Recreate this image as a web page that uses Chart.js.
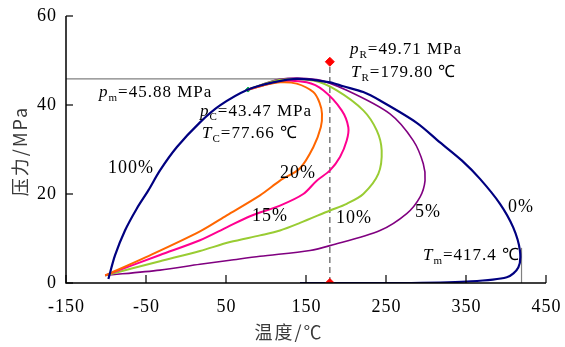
<!DOCTYPE html>
<html>
<head>
<meta charset="utf-8">
<script src="https://cdn.jsdelivr.net/npm/chart.js@4.4.1/dist/chart.umd.min.js"></script>
<style>
  html, body { margin: 0; padding: 0; background: #fff; }
  canvas { display: block; }
</style>
</head>
<body>
<canvas id="chart" width="565" height="347"></canvas>
<script>
// axis ticks
const xTicks = [-150, -50, 50, 150, 250, 350, 450];
const yTicks = [0, 20, 40, 60];

// phase envelope (100% bubble line -> 0% dew line)
const envT = [-97, -88.75, -76.25, -61.6, -47.1, -32.5, -11.6, 17.5, 42.5, 77.66, 109, 140, 180, 196.6, 221.6, 242.5, 288.4, 317.5, 345, 367.5, 392.5, 409, 417.4, 415.4, 401, 351, 267.5, 142.5];
const envP = [0.9, 6.2, 11.8, 16.7, 20.8, 25.3, 30.5, 36.1, 39.9, 43.47, 45.1, 45.88, 45.1, 44.2, 42.9, 41, 36, 31.6, 27.5, 23.4, 17.8, 12.5, 7.3, 3.5, 1.3, 0.34, 0, 0];

// quality lines
const q20T = [-101, -50, 17.5, 50.9, 92.5, 117.5, 142.5, 159.1, 168.5, 170, 167, 159.1, 138.4, 117.5, 96.6, 77.66];
const q20P = [1.7, 5.8, 11.6, 15.2, 19.7, 23, 25.8, 30.5, 35, 38, 40.5, 42.9, 44.8, 45.1, 44.4, 43.47];

const q15T = [-101, -32.5, 17.5, 50.9, 80, 117.5, 146.6, 163.4, 180, 192.5, 200.9, 202.9, 194.6, 171.6, 150.9, 117.5, 77.66];
const q15P = [1.7, 6.3, 9.6, 12.5, 15, 17.4, 20, 23, 25.3, 28.3, 32, 35, 38.8, 43.3, 45.1, 45.3, 43.47];

const q10T = [-101, -32.5, 17.5, 55, 92.5, 117.5, 142.5, 180, 200.9, 221.6, 240.4, 244.6, 238.4, 221.6, 188.4, 159.1, 117, 77.66];
const q10P = [1.7, 4.9, 7.2, 9.2, 10.7, 11.8, 13.5, 16.3, 17.8, 20, 24.5, 29.8, 34.3, 38.8, 43.3, 45.5, 45.6, 43.47];

const q5T = [-101, -32.5, 17.5, 55, 92.5, 155, 180, 242.5, 275.9, 292.5, 298.8, 296.6, 284.1, 255, 200.9, 163.4, 117, 77.66];
const q5P = [1.7, 2.9, 4.2, 5.1, 6.0, 7.3, 8.4, 11.8, 15.6, 19.3, 23, 26.8, 32, 38, 43.3, 45.7, 45.8, 43.47];

// special points
const pm = 45.88, Tm = 417.4;
const pR = 49.71, TR = 179.80;
const pC = 43.47, TC = 77.66;

function pts(xs, ys) {
  return xs.map((x, i) => ({ x, y: ys[i] }));
}

function line(label, xs, ys, color, width) {
  return {
    label,
    data: pts(xs, ys),
    showLine: true,
    borderColor: color,
    backgroundColor: color,
    borderWidth: width,
    pointRadius: 0,
    tension: 0.3,
    fill: false
  };
}

const SERIF = '"Liberation Serif", "Times New Roman", serif';

function subText(ctx, x, y, main, sub, rest, size) {
  ctx.font = `italic ${size}px ${SERIF}`;
  ctx.fillText(main, x, y);
  x += ctx.measureText(main).width;
  ctx.font = `${Math.round(size * 0.65)}px ${SERIF}`;
  ctx.fillText(sub, x, y + 4);
  x += ctx.measureText(sub).width;
  ctx.font = `${size}px ${SERIF}`;
  ctx.fillText(rest, x, y);
}

const axesPlugin = {
  id: "axesPlugin",
  afterDatasetsDraw(chart) {
    const ctx = chart.ctx;
    const xs = chart.scales.x;
    const ys = chart.scales.y;
    const left = xs.getPixelForValue(-150);
    const right = xs.getPixelForValue(450);
    const bottom = ys.getPixelForValue(0);
    const top = ys.getPixelForValue(60);

    ctx.save();
    ctx.strokeStyle = "#000";
    ctx.lineWidth = 1.5;
    ctx.beginPath();
    ctx.moveTo(left, top);
    ctx.lineTo(left, bottom);
    ctx.lineTo(right, bottom);
    ctx.stroke();

    // ticks point inside
    ctx.lineWidth = 1.2;
    xTicks.forEach(v => {
      const px = xs.getPixelForValue(v);
      ctx.beginPath();
      ctx.moveTo(px, bottom);
      ctx.lineTo(px, bottom - 8);
      ctx.stroke();
    });
    yTicks.forEach(v => {
      const py = ys.getPixelForValue(v);
      ctx.beginPath();
      ctx.moveTo(left, py);
      ctx.lineTo(left + 7, py);
      ctx.stroke();
    });

    ctx.fillStyle = "#000";
    ctx.font = `18px ${SERIF}`;
    ctx.letterSpacing = "1px";
    ctx.textAlign = "center";
    ctx.textBaseline = "alphabetic";
    xTicks.forEach(v => {
      ctx.fillText(String(v), xs.getPixelForValue(v) + 0.5, bottom + 29);
    });
    ctx.textAlign = "right";
    ctx.textBaseline = "middle";
    yTicks.forEach(v => {
      ctx.fillText(String(v), left - 9, ys.getPixelForValue(v));
    });

    // axis titles
    ctx.fillStyle = "#3a3a3a";
    ctx.font = `18px "Noto Sans CJK SC", sans-serif`;
    ctx.letterSpacing = "2px";
    ctx.textAlign = "center";
    ctx.textBaseline = "middle";
    ctx.fillText("温度/℃", 289, 332);
    ctx.save();
    ctx.translate(20, 151);
    ctx.rotate(-Math.PI / 2);
    ctx.fillText("压力/MPa", 0, 0);
    ctx.restore();

    // annotations
    ctx.fillStyle = "#000";
    ctx.letterSpacing = "1px";
    ctx.textAlign = "left";
    ctx.textBaseline = "alphabetic";
    const fs = 17;
    subText(ctx, 99, 97, "p", "m", "=45.88 MPa", fs);
    subText(ctx, 200, 116, "p", "C", "=43.47 MPa", fs);
    subText(ctx, 202, 138, "T", "C", "=77.66 ℃", fs);
    subText(ctx, 350, 54, "p", "R", "=49.71 MPa", fs);
    subText(ctx, 351, 77, "T", "R", "=179.80 ℃", fs);
    subText(ctx, 423, 260, "T", "m", "=417.4 ℃", fs);

    ctx.font = `18px ${SERIF}`;
    ctx.fillText("100%", 108, 173);
    ctx.fillText("20%", 280, 178);
    ctx.fillText("15%", 252, 221);
    ctx.fillText("10%", 336, 223);
    ctx.fillText("5%", 415, 217);
    ctx.fillText("0%", 508, 212);
    ctx.restore();
  }
};

const datasets = [
  line("0%/100%", envT, envP, "#000080", 2.2),
  line("20%", q20T, q20P, "#FF6600", 2),
  line("15%", q15T, q15P, "#FF0090", 2),
  line("10%", q10T, q10P, "#99CC33", 2),
  line("5%", q5T, q5P, "#800080", 1.6),
  {
    label: "pm",
    data: [{ x: -150, y: pm }, { x: 146, y: pm }],
    showLine: true, borderColor: "#808080", borderWidth: 1.2, pointRadius: 0, order: 5
  },
  {
    label: "Tm",
    data: [{ x: Tm + 2, y: 0 }, { x: Tm + 2, y: 7.9 }],
    showLine: true, borderColor: "#808080", borderWidth: 1.2, pointRadius: 0, order: 5
  },
  {
    label: "TR",
    data: [{ x: TR, y: 0 }, { x: TR, y: pR }],
    showLine: true, borderColor: "#666", borderWidth: 1.3, borderDash: [6, 4], pointRadius: 0, order: 5
  },
  {
    label: "R",
    data: [{ x: TR, y: 0 }, { x: TR, y: pR }],
    showLine: false, pointStyle: "rectRot", pointRadius: 4.5,
    backgroundColor: "#FF0000", borderColor: "#FF0000", order: -1
  },
  {
    label: "C",
    data: [{ x: TC, y: pC }],
    showLine: false, pointStyle: "rectRot", pointRadius: 2.5,
    backgroundColor: "#00B050", borderColor: "#00B050", order: 1
  }
];

new Chart(document.getElementById("chart"), {
  type: "scatter",
  data: { datasets },
  options: {
    responsive: false,
    animation: false,
    devicePixelRatio: 1,
    layout: { padding: { left: 66, right: 19, top: 16, bottom: 64 } },
    plugins: { legend: { display: false }, tooltip: { enabled: false } },
    scales: {
      x: { type: "linear", min: -150, max: 450, display: false },
      y: { type: "linear", min: 0, max: 60, display: false }
    }
  },
  plugins: [axesPlugin]
});
</script>
</body>
</html>
